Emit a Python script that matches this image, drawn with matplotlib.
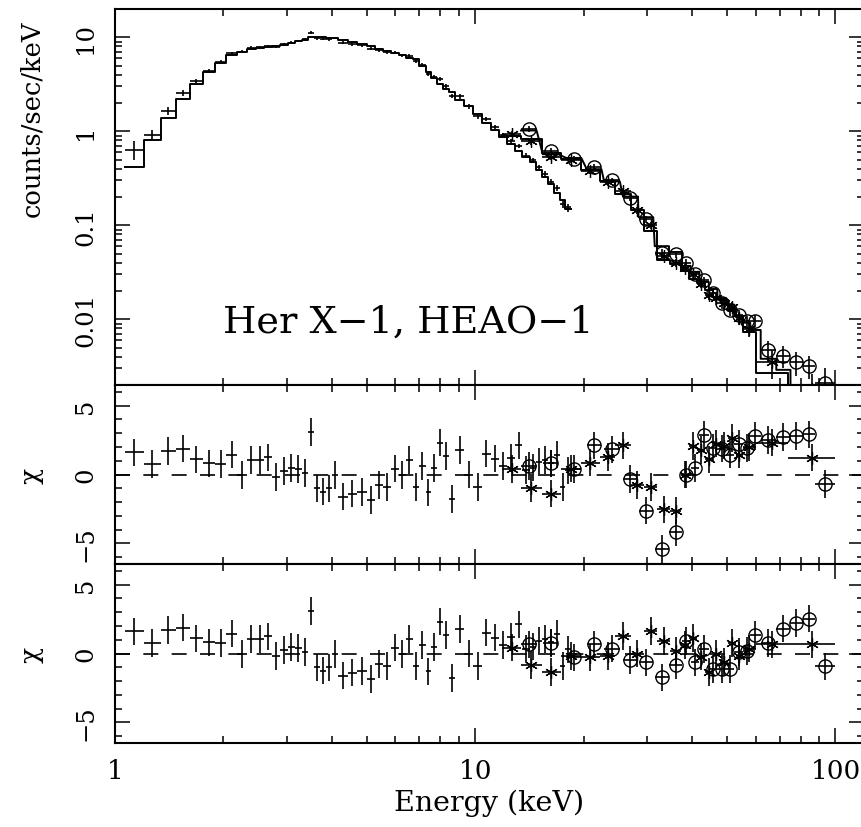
import numpy as np
import matplotlib
matplotlib.use("Agg")
import matplotlib.pyplot as plt
from matplotlib.ticker import LogLocator, MultipleLocator, NullFormatter, FuncFormatter

plt.rcParams['font.family'] = 'DejaVu Serif'
plt.rcParams['mathtext.fontset'] = 'dejavuserif'

# === low energy detector (crosses): bin edges in keV ===
edges_a = [1.066, 1.20, 1.34, 1.475, 1.615, 1.755, 1.895, 2.035, 2.18, 2.32, 2.46,
           2.595, 2.73, 2.87, 3.015, 3.16, 3.30, 3.435, 3.575, 3.715, 3.85, 3.995,
           4.17, 4.42, 4.71, 4.995, 5.28, 5.555, 5.845, 6.14, 6.42, 6.705, 6.995,
           7.28, 7.555, 7.845, 8.15, 8.45, 8.8, 9.3, 9.87, 10.45, 11.05, 11.65,
           12.27, 12.9, 13.52, 14.17, 14.75, 15.3, 15.9, 16.5, 17.15, 17.8, 18.4]
flux_a = [0.64, 0.91, 1.65, 2.55, 3.44, 4.4, 5.47, 6.76, 7.05, 7.77, 7.9, 8.1, 7.95,
          8.43, 8.8, 9.13, 9.5, 11.2, 9.75, 9.68, 9.5, 9.84, 8.8, 8.43, 8.2, 7.6,
          7.33, 6.98, 6.88, 6.45, 6.33, 5.6, 5.05, 4.05, 3.8, 3.59, 3.0, 2.39, 2.35,
          1.84, 1.44, 1.35, 1.10, 0.91, 0.79, 0.70, 0.55, 0.49, 0.415, 0.35, 0.29,
          0.25, 0.17, 0.155]
err_a = [0.14, 0.12, 0.15, 0.18, 0.20, 0.20, 0.22, 0.24, 0.24, 0.25, 0.25, 0.25,
         0.25, 0.25, 0.26, 0.26, 0.27, 0.35, 0.30, 0.30, 0.30, 0.30, 0.30, 0.30,
         0.30, 0.30, 0.28, 0.28, 0.27, 0.26, 0.26, 0.24, 0.22, 0.20, 0.18, 0.17,
         0.15, 0.13, 0.12, 0.10, 0.08, 0.07, 0.06, 0.05, 0.045, 0.04, 0.035, 0.03,
         0.028, 0.025, 0.022, 0.02, 0.016, 0.015]
model_a = [0.416, 0.816, 1.396, 2.212, 3.22, 4.24, 5.30, 6.41, 7.06, 7.51, 7.64,
           7.79, 8.0, 8.37, 8.68, 9.03, 9.47, 10.12, 10.05, 10.06, 9.8, 9.86, 9.28,
           8.84, 8.58, 8.16, 7.55, 7.23, 6.76, 6.46, 6.06, 5.82, 4.91, 4.31, 3.71,
           3.20, 2.80, 2.62, 2.14, 1.84, 1.51, 1.24, 1.03, 0.88, 0.736, 0.615, 0.539,
           0.475, 0.389, 0.324, 0.272, 0.221, 0.184, 0.150]
chi_a = [1.6, 0.78, 1.69, 1.88, 1.1, 0.8, 0.77, 1.45, -0.05, 1.04, 1.04, 1.25, -0.2,
         0.24, 0.48, 0.38, 0.1, 3.09, -1.0, -1.25, -1.0, -0.05, -1.6, -1.38, -1.26,
         -1.86, -0.77, -0.9, 0.43, -0.05, 1.04, -0.9, 0.63, -1.3, 0.48, 2.32, 1.35,
         -1.79, 1.76, 0.0, -0.9, 1.52, 1.16, 0.63, 1.2, 2.12, 0.31, 0.5, 0.92, 1.04,
         0.8, 1.45, -0.9, 0.3]

# === high energy detector 1 (circles) ===
lo_c = [13.4, 15.4, 17.9, 20.4, 22.8, 25.7, 28.4, 31.5, 34.5, 37.5, 39.6, 41.9,
        44.5, 47.0, 49.7, 52.4, 55.3, 58.0, 62.0, 68.5, 75.0, 81.0, 87.6]
hi_c = [14.8, 17.0, 19.7, 22.4, 25.2, 28.3, 31.2, 34.5, 37.5, 39.6, 41.9, 44.5,
        47.0, 49.7, 52.4, 55.3, 58.0, 62.0, 68.5, 75.0, 81.0, 87.6, 99.6]
flux_c = [1.07, 0.61, 0.51, 0.415, 0.30, 0.195, 0.116, 0.051, 0.049, 0.040, 0.030,
          0.026, 0.019, 0.0148, 0.0125, 0.011, 0.0095, 0.0096, 0.0047, 0.0041,
          0.0035, 0.0032, 0.0021]
err_c = [0.08, 0.05, 0.035, 0.03, 0.02, 0.014, 0.009, 0.005, 0.004, 0.0035, 0.003,
         0.0025, 0.002, 0.0018, 0.0016, 0.0015, 0.0014, 0.0014, 0.0012, 0.0011,
         0.001, 0.0009, 0.0009]
model_c = [1.02, 0.57, 0.52, 0.395, 0.293, 0.202, 0.122, 0.060, 0.052, 0.037, 0.032,
           0.025, 0.021, 0.0168, 0.0143, 0.0108, 0.0092, 0.0077, 0.0038, 0.0029,
           0.0013, 0.0009, 0.0012]
chi1_c = [0.63, 0.8, 0.38, 2.12, 1.83, -0.34, -2.63, -5.41, -4.2, 0.0, 0.48, 2.9,
          1.93, 1.88, 1.45, 2.25, 1.93, 2.8, 2.49, 2.73, 2.8, 2.92, -0.7]
chi2_c = [0.67, 0.75, -0.29, 0.67, 0.36, -0.49, -0.65, -1.74, -0.85, 0.91, -0.65,
          0.31, -1.14, -1.14, -1.14, 0.12, 0.19, 1.33, 0.75, 1.81, 2.2, 2.54, -0.94]

# === high energy detector 2 (asterisks) ===
lo_s = [11.9, 13.4, 15.3, 17.3, 19.6, 22.2, 24.5, 27.0, 29.4, 32.0, 34.8, 37.2,
        39.2, 41.2, 43.4, 45.7, 47.8, 50.2, 52.8, 55.4, 60.0, 73.8]
hi_s = [13.4, 15.3, 17.3, 19.6, 22.2, 24.5, 27.0, 29.4, 32.0, 34.8, 37.2, 39.2,
        41.2, 43.4, 45.7, 47.8, 50.2, 52.8, 55.4, 60.0, 73.8, 100.0]
flux_s = [0.93, 0.78, 0.53, 0.50, 0.38, 0.29, 0.234, 0.144, 0.10, 0.047, 0.040,
          0.035, 0.030, 0.024, 0.018, 0.017, 0.0148, 0.0135, 0.0102, 0.0079,
          0.0035, 0.0018]
err_s = [0.07, 0.06, 0.04, 0.035, 0.028, 0.02, 0.016, 0.011, 0.008, 0.005, 0.004,
         0.0035, 0.003, 0.0025, 0.002, 0.0019, 0.0018, 0.0016, 0.0015, 0.0014,
         0.0012, 0.0008]
model_s = [0.90, 0.83, 0.583, 0.506, 0.388, 0.293, 0.214, 0.144, 0.087, 0.0425,
           0.0392, 0.0329, 0.0267, 0.0245, 0.0207, 0.0171, 0.0159, 0.0123, 0.0105,
           0.0074, 0.0027, 0.0013]
chi1_s = [0.38, -0.97, -1.38, 0.43, 0.87, 1.28, 2.12, -0.77, -0.92, -2.54, -2.63,
          0.0, 2.08, 1.76, 1.09, 2.25, 2.1, 2.66, 1.45, 2.0, 2.32, 1.23]
chi2_s = [0.43, -0.85, -1.33, -0.17, -0.29, -0.17, 1.28, 0.0, 1.64, 0.91, 0.19, 0.6,
          1.11, -0.22, -1.33, -0.05, -0.6, 0.75, -0.2, 0.36, 0.67, 0.67]

LW = 1.2
ASTER = (6, 2, 0)


def bins(lo, hi):
    lo, hi = np.asarray(lo), np.asarray(hi)
    x = np.sqrt(lo * hi)
    return x, [x - lo, hi - x]


def points(ax, lo, hi, y, yerr, marker=None):
    x, xerr = bins(lo, hi)
    ax.errorbar(x, y, xerr=xerr, yerr=yerr, fmt='none', ecolor='k', elinewidth=LW,
                capsize=0, zorder=3)
    if marker == 'o':
        ax.plot(x, y, 'o', mfc='none', mec='k', ms=9.5, mew=1.0, zorder=4)
    elif marker == '*':
        ax.plot(x, y, marker=ASTER, ls='none', color='k', ms=9, mew=0.9, zorder=4)


def histo(ax, lo, hi, m):
    xs = np.column_stack([lo, hi]).ravel()
    ys = np.repeat(m, 2)
    ax.plot(xs, ys, color='k', lw=1.4, zorder=2)


lo_a, hi_a = edges_a[:-1], edges_a[1:]

fig = plt.figure(figsize=(8.62, 8.28), dpi=100)
L = 115 / 862
W = 749 / 862
ax1 = fig.add_axes([L, 1 - 386 / 828, W, 376 / 828])
ax2 = fig.add_axes([L, 1 - 565 / 828, W, 179 / 828], sharex=ax1)
ax3 = fig.add_axes([L, 1 - 744 / 828, W, 179 / 828], sharex=ax1)

# --- spectrum ---
points(ax1, lo_a, hi_a, flux_a, err_a)
histo(ax1, lo_a, hi_a, model_a)
points(ax1, lo_c, hi_c, flux_c, err_c, 'o')
histo(ax1, lo_c, hi_c, model_c)
points(ax1, lo_s, hi_s, flux_s, err_s, '*')
histo(ax1, lo_s, hi_s, model_s)
ax1.set_xscale('log')
ax1.set_yscale('log')
ax1.set_xlim(1, 120)
ax1.set_ylim(0.002, 20)
ax1.set_yticks([0.01, 0.1, 1, 10], ['0.01', '0.1', '1', '10'], rotation=90, va='center')
ax1.yaxis.set_minor_locator(LogLocator(base=10, subs=np.arange(2, 10)))
ax1.yaxis.set_minor_formatter(NullFormatter())
ax1.set_ylabel('counts/sec/keV', fontsize=18.5)
ax1.text(2.0, 0.0074, 'Her X\u22121, HEAO\u22121', fontsize=27.5)

# --- residuals ---
for ax, c_c, c_s in [(ax2, chi1_c, chi1_s), (ax3, chi2_c, chi2_s)]:
    ax.axhline(0, color='k', lw=1.2, ls=(0, (9, 8)), zorder=1)
    points(ax, lo_a, hi_a, chi_a, 1.0)
    points(ax, lo_c, hi_c, c_c, 1.0, 'o')
    points(ax, lo_s, hi_s, c_s, 1.0, '*')
    ax.set_ylim(-6.5, 6.5)
    ax.yaxis.set_major_locator(MultipleLocator(5))
    ax.yaxis.set_minor_locator(MultipleLocator(1))
    ax.set_yticks([-5, 0, 5], ['\u22125', '0', '5'], rotation=90, va='center')
    ax.set_ylabel('\u03c7', fontsize=19)

for ax in (ax1, ax2, ax3):
    ax.tick_params(which='both', direction='in', top=True, right=True, width=1.1,
                   labelsize=17.5, pad=13)
    ax.tick_params(which='major', length=10.5)
    ax.tick_params(which='minor', length=5)
    ax.tick_params(axis='x', labelbottom=False)
    ax.yaxis.set_label_coords(-0.095, 0.5)
    for sp in ax.spines.values():
        sp.set_linewidth(1.5)

ax1.yaxis.set_label_coords(-0.095, 0.71)

ax3.tick_params(axis='x', labelbottom=True, labelsize=19, pad=11)
ax3.xaxis.set_major_formatter(FuncFormatter(lambda v, p: f'{v:g}'))
ax3.xaxis.set_minor_formatter(NullFormatter())
ax3.set_xlabel('Energy (keV)', fontsize=20.5, labelpad=4)

fig.savefig('out.png', dpi=100)
